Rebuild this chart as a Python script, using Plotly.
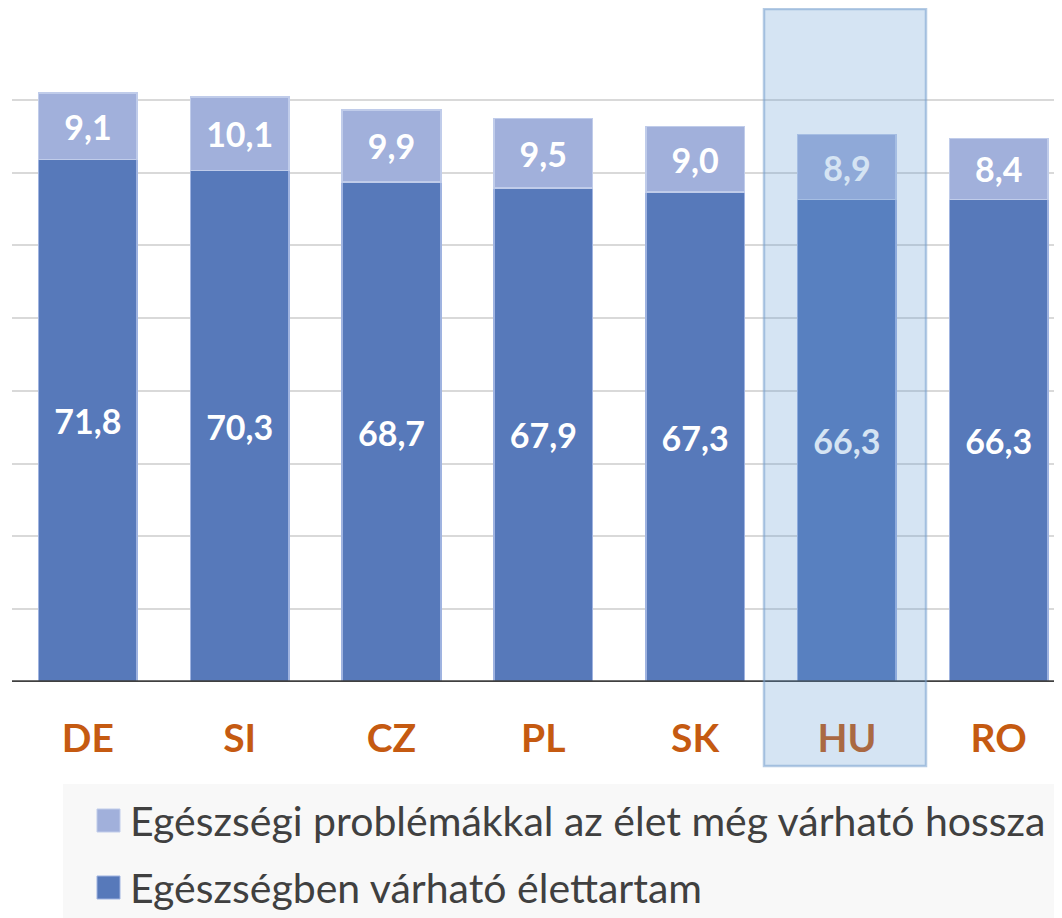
import plotly.graph_objects as go

countries = ["DE", "SI", "CZ", "PL", "SK", "HU", "RO"]
healthy_years = [71.8, 70.3, 68.7, 67.9, 67.3, 66.3, 66.3]
unhealthy_years = [9.1, 10.1, 9.9, 9.5, 9.0, 8.9, 8.4]
fmt = lambda v: f"{v:.1f}".replace(".", ",")
name_healthy = "Egészségben várható élettartam"
name_unhealthy = "Egészségi problémákkal az élet még várható hossza"

OFF = 8  # page body margin of the browser
W, H = 1062 - OFF, 918 - OFF
L, T, B = 12 - OFF, 27 - OFF, 682 - OFF  # plot area in figure pixels
PW, PH = W - L, B - T


def px(x):  # page pixel -> paper
    return (x - OFF - L) / PW


def py(y):
    return (B - (y - OFF)) / PH


DARK = "#5779BA"
LIGHT = "#A1B0DB"
FONT = "Lato"

fig = go.Figure()
fig.add_trace(go.Bar(
    x=countries, y=healthy_years, name=name_healthy,
    marker=dict(color=DARK, line=dict(color="#9FB3E0", width=1.5)),
    text=[fmt(v) for v in healthy_years], textposition="inside",
    insidetextanchor="middle",
    textfont=dict(family=FONT, size=34, color="white", weight="bold"),
    width=0.65, showlegend=False,
))
fig.add_trace(go.Bar(
    x=countries, y=unhealthy_years, name=name_unhealthy,
    marker=dict(color=LIGHT, line=dict(color="#C0CCEA", width=1.5)),
    text=[fmt(v) for v in unhealthy_years], textposition="inside",
    insidetextanchor="middle",
    textfont=dict(family=FONT, size=34, color="white", weight="bold"),
    width=0.65, showlegend=False,
))

x_hi = (1062 - 12) / 151.8 - 0.5

shapes = [
    dict(type="line", xref="paper", yref="y", x0=0, x1=1, y0=0, y1=0,
         line=dict(color="#404040", width=3.5), layer="above"),
    dict(type="rect", xref="paper", yref="paper",
         x0=px(764), x1=px(926), y0=py(766), y1=py(9),
         fillcolor="rgba(91,150,208,0.26)",
         line=dict(color="rgba(120,160,205,0.55)", width=2.5), layer="above"),
    dict(type="rect", xref="paper", yref="paper",
         x0=px(63), x1=px(1062), y0=py(918), y1=py(784),
         fillcolor="#F8F8F8", line=dict(width=0), layer="below"),
    dict(type="rect", xref="paper", yref="paper",
         x0=px(97), x1=px(120), y0=py(832), y1=py(809),
         fillcolor=LIGHT, line=dict(color="#C0CCEA", width=1)),
    dict(type="rect", xref="paper", yref="paper",
         x0=px(97), x1=px(120), y0=py(899), y1=py(876),
         fillcolor=DARK, line=dict(color="#9FB3E0", width=1)),
]

annotations = [
    dict(xref="paper", yref="paper", x=px(128), y=py(820), text=name_unhealthy,
         showarrow=False, xanchor="left", yanchor="middle",
         font=dict(family=FONT, size=41, color="#404040")),
    dict(xref="paper", yref="paper", x=px(128), y=py(887), text=name_healthy,
         showarrow=False, xanchor="left", yanchor="middle",
         font=dict(family=FONT, size=41, color="#404040")),
]

fig.update_layout(
    width=W, height=H,
    margin=dict(l=L, r=0, t=T, b=H - B, pad=0),
    barmode="stack",
    plot_bgcolor="white", paper_bgcolor="white",
    showlegend=False,
    shapes=shapes, annotations=annotations,
    uniformtext=dict(mode=False),
    xaxis=dict(range=[-0.5, x_hi], showgrid=False, showline=False, ticks="",
               tickfont=dict(family=FONT, size=39, color="#C55A11", weight="bold"),
               ticklabelstandoff=30),
    yaxis=dict(range=[0, 90], dtick=10, showgrid=True, gridcolor="#D9D9D9",
               gridwidth=1.5, showticklabels=False, zeroline=False,
               showline=False, ticks=""),
)

fig.write_html("out.html")
